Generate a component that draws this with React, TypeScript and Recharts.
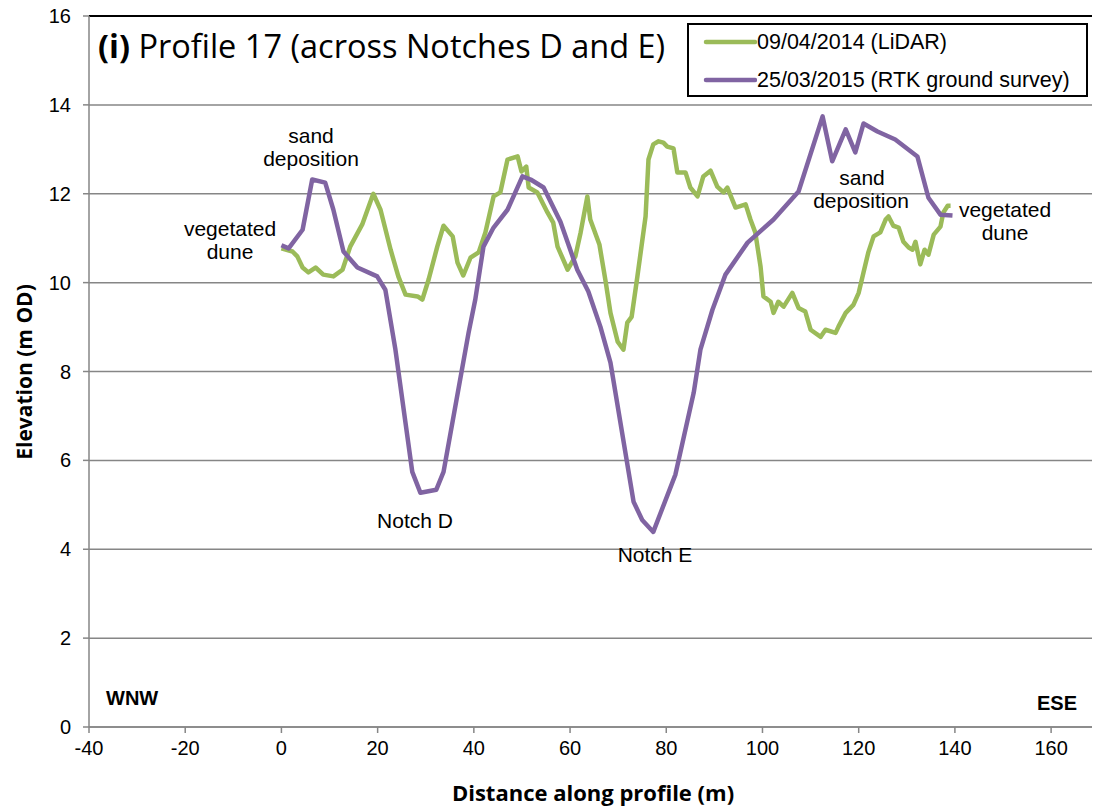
import React from 'react';
import {
  LineChart,
  Line,
  XAxis,
  YAxis,
  CartesianGrid,
  ReferenceLine,
  Legend,
  Customized,
} from 'recharts';

// ---- Data ----
const lidarDistance = [
  0, 2.3, 3.3, 4.4, 5.6, 7.1, 8.7, 10.8, 12.7, 14.3, 16.8, 17.9, 19.1, 20.6, 22.7, 24.3, 25.8, 28.3,
  29.3, 30.6, 32.4, 33.7, 35.6, 36.6, 37.8, 39.3, 41.0, 42.4, 44.1, 45.5, 47.0, 49.1, 49.9, 50.9,
  51.4, 53.2, 55.3, 56.5, 57.4, 59.5, 61.1, 62.2, 63.6, 64.2, 66.1, 67.4, 68.4, 69.9, 71.1, 71.9,
  72.8, 74.0, 75.7, 76.3, 77.3, 78.4, 79.4, 80.2, 81.5, 82.3, 84.0, 85.0, 86.5, 87.7, 89.2, 90.6,
  91.9, 92.7, 94.4, 96.5, 97.5, 98.5, 99.6, 100.2, 101.7, 102.3, 103.3, 104.4, 106.2, 107.5, 108.9,
  110.0, 112.1, 113.1, 115.2, 115.8, 117.3, 118.9, 120.0, 121.0, 122.0, 123.1, 124.5, 125.6, 126.2,
  127.2, 128.3, 129.3, 130.4, 131.2, 131.8, 132.8, 133.7, 134.5, 135.6, 137.0, 137.6, 138.5, 139.1,
];
const lidarElevation = [
  10.77, 10.7, 10.59, 10.34, 10.23, 10.34, 10.18, 10.14, 10.29, 10.81, 11.31, 11.64, 12.0, 11.64,
  10.74, 10.14, 9.73, 9.69, 9.62, 10.07, 10.81, 11.28, 11.04, 10.45, 10.16, 10.56, 10.68, 11.13,
  11.94, 12.03, 12.77, 12.84, 12.5, 12.61, 12.14, 12.03, 11.58, 11.35, 10.81, 10.29, 10.59, 11.13,
  11.94, 11.42, 10.86, 10.02, 9.32, 8.67, 8.49, 9.1, 9.23, 10.14, 11.49, 12.77, 13.11, 13.18, 13.15,
  13.06, 13.02, 12.48, 12.48, 12.14, 11.94, 12.39, 12.52, 12.16, 12.03, 12.14, 11.69, 11.76, 11.42,
  11.13, 10.36, 9.69, 9.57, 9.32, 9.57, 9.46, 9.77, 9.43, 9.35, 8.94, 8.78, 8.94, 8.87, 9.01, 9.32,
  9.5, 9.77, 10.23, 10.68, 11.04, 11.13, 11.42, 11.49, 11.28, 11.24, 10.92, 10.79, 10.74, 10.92,
  10.41, 10.74, 10.63, 11.08, 11.26, 11.58, 11.73, 11.73,
];

const rtkDistance = [
  0, 1.5, 4.4, 6.4, 9.1, 10.8, 12.9, 15.8, 19.9, 21.6, 23.7, 27.2, 28.9, 32.2, 33.7, 38.9, 40.3,
  42.0, 44.1, 47.0, 50.1, 51.8, 54.5, 58.0, 61.5, 63.8, 66.3, 68.4, 73.2, 75.0, 77.3, 81.9, 85.7,
  87.1, 89.6, 92.3, 96.9, 102.3, 107.5, 112.5, 114.5, 117.3, 119.3, 121.0, 123.9, 127.6, 132.2,
  134.5, 137.0, 139.5,
];
const rtkElevation = [
  10.84, 10.77, 11.19, 12.32, 12.25, 11.64, 10.7, 10.34, 10.14, 9.84, 8.49, 5.74, 5.27, 5.34, 5.74,
  8.87, 9.62, 10.81, 11.24, 11.64, 12.39, 12.32, 12.14, 11.37, 10.29, 9.8, 9.01, 8.2, 5.07, 4.66,
  4.39, 5.68, 7.52, 8.49, 9.39, 10.18, 10.9, 11.42, 12.05, 13.74, 12.73, 13.45, 12.93, 13.58, 13.4,
  13.22, 12.84, 11.91, 11.53, 11.51,
];

const xTicks = [-40, -20, 0, 20, 40, 60, 80, 100, 120, 140, 160];
const yTicks = [0, 2, 4, 6, 8, 10, 12, 14, 16];
const seriesNames = ['09/04/2014 (LiDAR)', '25/03/2015 (RTK ground survey)'];
const seriesColors = ['#9BBB59', '#8064A2'];

const lidarData = lidarDistance.map((d, i) => ({ distance: d, elevation: lidarElevation[i] }));
const rtkData = rtkDistance.map((d, i) => ({ distance: d, elevation: rtkElevation[i] }));

const ARIAL = '"Liberation Sans", Arial, sans-serif';
const CALIBRI = '"Open Sans", sans-serif';

const LegendBox = () => (
  <div
    style={{
      position: 'relative',
      width: 401,
      height: 74,
      boxSizing: 'border-box',
      border: '2px solid #000',
      background: '#fff',
      fontFamily: ARIAL,
      fontSize: 21.5,
      color: '#000',
    }}
  >
    {seriesNames.map((n, i) => (
      <div
        key={n}
        style={{
          position: 'absolute',
          left: 14,
          top: i === 0 ? 5 : 43,
          height: 24,
          display: 'flex',
          alignItems: 'center',
          whiteSpace: 'nowrap',
        }}
      >
        <svg width={54} height={8} style={{ display: 'block' }}>
          <line x1={3} y1={4} x2={52} y2={4} stroke={seriesColors[i]} strokeWidth={4.5} strokeLinecap="round" />
        </svg>
        <span>{n}</span>
      </div>
    ))}
  </div>
);

const Annotations = () => {
  const ann = { fontFamily: ARIAL, fontSize: 21, fill: '#000', textAnchor: 'middle' as const };
  return (
    <g>
      <text x={98} y={58} fontFamily={CALIBRI} fontSize={32.5} fill="#000">
        <tspan fontWeight="bold">(i)</tspan>
        <tspan> Profile 17 (across Notches D and E)</tspan>
      </text>
      <text {...ann} x={311} y={143}>sand</text>
      <text {...ann} x={311} y={166}>deposition</text>
      <text {...ann} x={230} y={236}>vegetated</text>
      <text {...ann} x={230} y={259}>dune</text>
      <text {...ann} x={415} y={528}>Notch D</text>
      <text {...ann} x={655} y={562}>Notch E</text>
      <text {...ann} x={862} y={185}>sand</text>
      <text {...ann} x={861} y={208}>deposition</text>
      <text {...ann} x={1005} y={217}>vegetated</text>
      <text {...ann} x={1005} y={240}>dune</text>
      <text x={106} y={705} fontFamily={ARIAL} fontSize={20} fontWeight="bold" fill="#000">WNW</text>
      <text x={1077} y={710} fontFamily={ARIAL} fontSize={20} fontWeight="bold" fill="#000" textAnchor="end">ESE</text>
      <text
        x={0}
        y={0}
        transform="translate(32 372) rotate(-90)"
        fontFamily={CALIBRI}
        fontSize={21}
        fontWeight="bold"
        fill="#000"
        textAnchor="middle"
      >
        Elevation (m OD)
      </text>
      <text x={593} y={801} fontFamily={CALIBRI} fontSize={22} fontWeight="bold" fill="#000" textAnchor="middle">
        Distance along profile (m)
      </text>
    </g>
  );
};

export default function App() {
  return (
    <div style={{ position: 'absolute', left: 0, top: 0, background: '#fff' }}>
      <LineChart width={1094} height={807} margin={{ top: 16, right: 2, bottom: 0, left: 0 }}>
        <CartesianGrid vertical={false} stroke="#868686" strokeWidth={1.5} />
        <XAxis
          type="number"
          dataKey="distance"
          domain={[-40, 168.5]}
          ticks={xTicks}
          allowDataOverflow
          height={80}
          stroke="#868686"
          strokeWidth={1.5}
          tickSize={6}
          tickMargin={8}
          tick={{ fill: '#000', fontFamily: ARIAL, fontSize: 20 }}
        />
        <YAxis
          type="number"
          dataKey="elevation"
          domain={[0, 16]}
          ticks={yTicks}
          width={89}
          stroke="#868686"
          strokeWidth={1.5}
          tickSize={6}
          tickMargin={12}
          tick={{ fill: '#000', fontFamily: ARIAL, fontSize: 20 }}
        />
        <ReferenceLine y={16} stroke="#000" strokeWidth={2} />
        <Legend
          layout="vertical"
          align="center"
          verticalAlign="middle"
          wrapperStyle={{ left: 687, top: 23, width: 401, height: 74 }}
          content={() => <LegendBox />}
        />
        <Line
          data={lidarData}
          dataKey="elevation"
          name={seriesNames[0]}
          type="linear"
          stroke={seriesColors[0]}
          strokeWidth={4.5}
          dot={false}
          isAnimationActive={false}
          strokeLinejoin="round"
        />
        <Line
          data={rtkData}
          dataKey="elevation"
          name={seriesNames[1]}
          type="linear"
          stroke={seriesColors[1]}
          strokeWidth={4.5}
          dot={false}
          isAnimationActive={false}
          strokeLinejoin="round"
        />
        <Customized component={Annotations} />
      </LineChart>
    </div>
  );
}
